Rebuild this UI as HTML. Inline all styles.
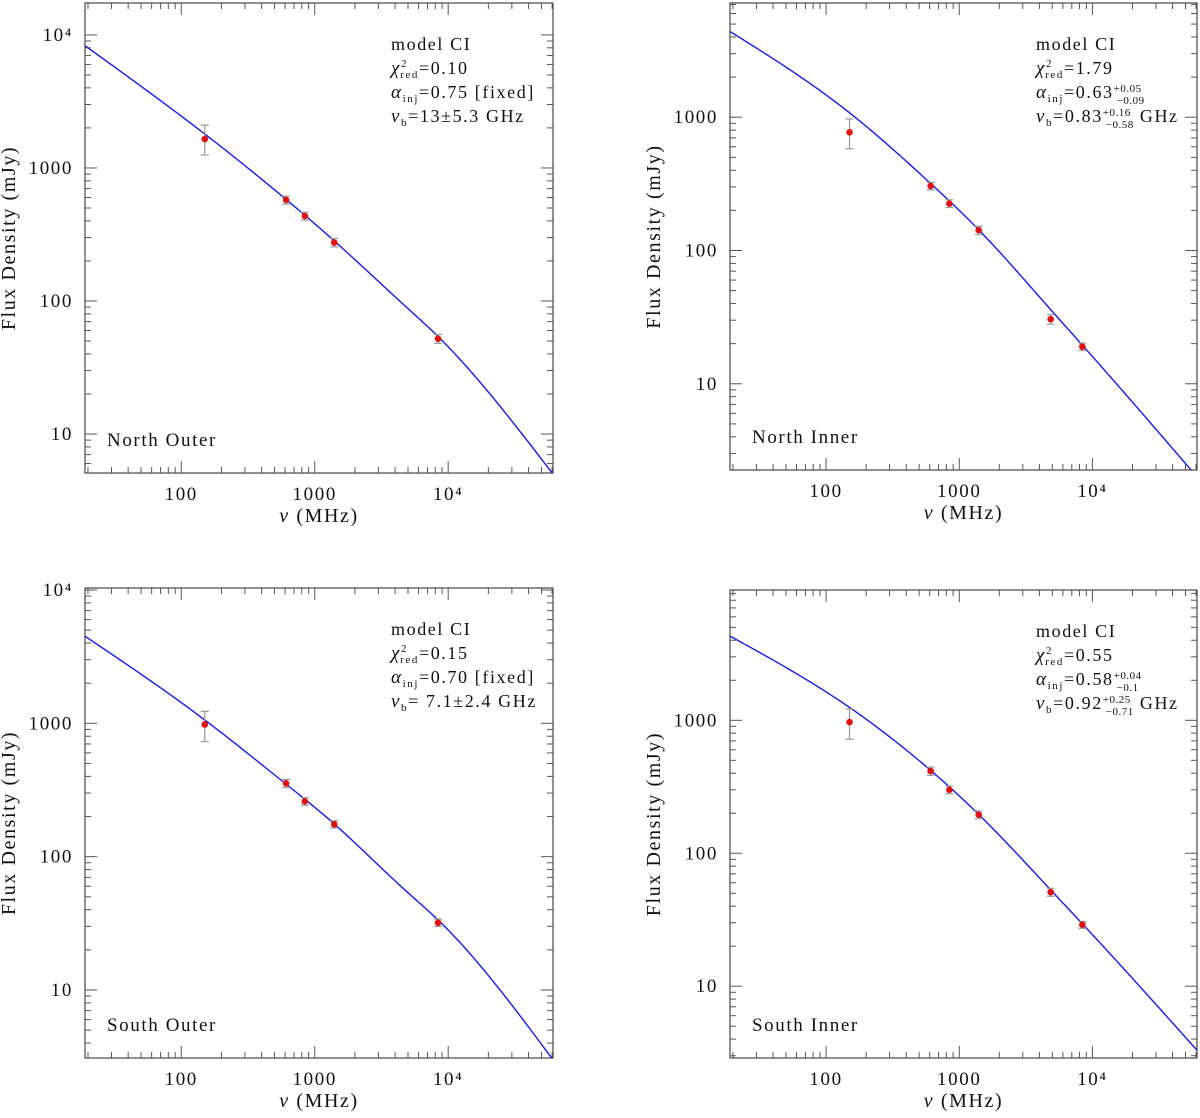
<!DOCTYPE html>
<html><head><meta charset="utf-8"><style>
body{margin:0;background:#fff;}
svg text{font-family:"Liberation Serif",serif;fill:#111;letter-spacing:1.6px;}
</style></head><body>
<svg id="fig" width="1200" height="1113" viewBox="0 0 1200 1113" xmlns="http://www.w3.org/2000/svg"></svg>
<script>
// Data arrays
const panelNames = ["North Outer","North Inner","South Outer","South Inner"];
const obsFreqTL = [150,610,843,1400,8400];
const obsFluxTL = [1650,575,435,275,52];
const obsLoTL = [1250,535,405,255,48];
const obsHiTL = [2100,615,465,295,56];
const obsFreqTR = [150,610,843,1400,4860,8400];
const obsFluxTR = [770,305,225,142,30.5,19];
const obsLoTR = [580,285,210,132,28,17.8];
const obsHiTR = [970,325,240,152,33,20.2];
const obsFreqBL = [150,610,843,1400,8400];
const obsFluxBL = [980,355,260,175,32];
const obsLoBL = [730,330,243,164,30];
const obsHiBL = [1230,380,277,186,34];
const obsFreqBR = [150,610,843,1400,4860,8400];
const obsFluxBR = [970,415,300,195,51,29];
const obsLoBR = [720,385,280,182,47.5,27.3];
const obsHiBR = [1220,445,320,208,54.5,30.7];
const modelFreq = [19,150,610,1400,4860,8400,61000];
const modelTL = [8300,1800,580,283,90,54,5];
const modelTR = [4400,1080,318,143,36,19.5,2.0];
const modelBL = [4500,1060,350,176,55,33.5,3];
const modelBR = [4300,1250,420,196,53,29.5,3.3];
const xTickLabels = ["100","1000","10⁴"];
const yTickLabelsA = ["10","100","1000","10⁴"];

const NS="http://www.w3.org/2000/svg";
const svg=document.getElementById('fig');
function el(tag,attrs,parent){const e=document.createElementNS(NS,tag);for(const k in attrs)e.setAttribute(k,attrs[k]);(parent||svg).appendChild(e);return e;}

// natural cubic spline in log-log space
function spline(xs,ys){const n=xs.length,h=[],al=[],l=[1],mu=[0],z=[0],c=new Array(n).fill(0),b=[],d=[];
 for(let i=0;i<n-1;i++)h.push(xs[i+1]-xs[i]);
 for(let i=1;i<n-1;i++)al[i]=3/h[i]*(ys[i+1]-ys[i])-3/h[i-1]*(ys[i]-ys[i-1]);
 for(let i=1;i<n-1;i++){l[i]=2*(xs[i+1]-xs[i-1])-h[i-1]*mu[i-1];mu[i]=h[i]/l[i];z[i]=(al[i]-h[i-1]*z[i-1])/l[i];}
 l[n-1]=1;z[n-1]=0;
 for(let j=n-2;j>=0;j--){c[j]=z[j]-mu[j]*c[j+1];b[j]=(ys[j+1]-ys[j])/h[j]-h[j]*(c[j+1]+2*c[j])/3;d[j]=(c[j+1]-c[j])/(3*h[j]);}
 return x=>{let j=0;while(j<n-2&&x>xs[j+1])j++;const t=x-xs[j];return ys[j]+b[j]*t+c[j]*t*t+d[j]*t*t*t;};}

const panels=[
 {x0:85,x1:553,y0:3,y1:473,ymin:0.707,ymax:4.24,f:obsFreqTL,v:obsFluxTL,lo:obsLoTL,hi:obsHiTL,m:modelTL,name:panelNames[0],ylabs:[1,2,3,4]},
 {x0:730,x1:1197,y0:3,y1:470,ymin:0.353,ymax:3.857,f:obsFreqTR,v:obsFluxTR,lo:obsLoTR,hi:obsHiTR,m:modelTR,name:panelNames[1],ylabs:[1,2,3]},
 {x0:85,x1:553,y0:588,y1:1058,ymin:0.49,ymax:4.015,f:obsFreqBL,v:obsFluxBL,lo:obsLoBL,hi:obsHiBL,m:modelBL,name:panelNames[2],ylabs:[1,2,3,4]},
 {x0:730,x1:1197,y0:590,y1:1058,ymin:0.46,ymax:3.98,f:obsFreqBR,v:obsFluxBR,lo:obsLoBR,hi:obsHiBR,m:modelBR,name:panelNames[3],ylabs:[1,2,3]}
];
const XMIN=Math.log10(19),XMAX=Math.log10(61000);
const anns=[
 ['χ','red','=0.10',null,null,'α','inj','=0.75 [fixed]',null,null,'ν','b','=13±5.3  GHz',null,null],
 ['χ','red','=1.79',null,null,'α','inj','=0.63','+0.05','−0.09','ν','b','=0.83','+0.16','−0.58'],
 ['χ','red','=0.15',null,null,'α','inj','=0.70 [fixed]',null,null,'ν','b','= 7.1±2.4 GHz',null,null],
 ['χ','red','=0.55',null,null,'α','inj','=0.58','+0.04','−0.1','ν','b','=0.92','+0.25','−0.71']
];

panels.forEach((p,pi)=>{
 const g=el('g',{});
 
 
 const X=v=>p.x0+(Math.log10(v)-XMIN)/(XMAX-XMIN)*(p.x1-p.x0);
 const Y=v=>p.y1-(Math.log10(v)-p.ymin)/(p.ymax-p.ymin)*(p.y1-p.y0);
 const clip='c'+pi;
 const cp=el('clipPath',{id:clip},g);el('rect',{x:p.x0,y:p.y0,width:p.x1-p.x0,height:p.y1-p.y0},cp);
 const tk=el('g',{stroke:'#555','stroke-width':1},g);
 for(let d=1;d<=4;d++)for(let k=1;k<10;k++){const v=k*Math.pow(10,d);const lv=Math.log10(v);if(lv<XMIN||lv>XMAX)continue;const x=X(v);const L=k==1?12:6;
  el('line',{x1:x,x2:x,y1:p.y1,y2:p.y1-L},tk);el('line',{x1:x,x2:x,y1:p.y0,y2:p.y0+L},tk);}
 for(let d=0;d<=4;d++)for(let k=1;k<10;k++){const v=k*Math.pow(10,d);const lv=Math.log10(v);if(lv<p.ymin||lv>p.ymax)continue;const y=Y(v);const L=k==1?12:6;
  el('line',{x1:p.x0,x2:p.x0+L,y1:y,y2:y},tk);el('line',{x1:p.x1,x2:p.x1-L,y1:y,y2:y},tk);}
 const fr=el('rect',{x:p.x0,y:p.y0,width:p.x1-p.x0,height:p.y1-p.y0,fill:'none',stroke:'#555','stroke-width':1.3},g);
 
 [100,1000,10000].forEach((v,i)=>{const t=el('text',{x:X(v),y:p.y1+27,'text-anchor':'middle','font-size':19},g);t.textContent=xTickLabels[i];
  });
 p.ylabs.forEach(d=>{const t=el('text',{x:p.x0-12,y:Y(Math.pow(10,d))+6,'text-anchor':'end','font-size':19},g);t.textContent=yTickLabelsA[d-1];
  });
 const xt=el('text',{x:(p.x0+p.x1)/2,y:p.y1+49,'text-anchor':'middle','font-size':20},g);
 xt.innerHTML='<tspan font-style="italic">ν</tspan> (MHz)';
 
 const yx=p.x0-70, yc=(p.y0+p.y1)/2;
 const yt=el('text',{x:yx,y:yc,'text-anchor':'middle','font-size':20,transform:`rotate(-90 ${yx} ${yc})`},g);
 yt.textContent='Flux Density (mJy)';
 
 const sp=spline(modelFreq.map(Math.log10),p.m.map(Math.log10));
 let d='';
 for(let i=0;i<=200;i++){const lx=XMIN+(XMAX-XMIN)*i/200;const f=Math.pow(10,lx);const v=Math.pow(10,sp(lx));
  d+=(i?'L':'M')+X(f).toFixed(2)+','+Y(v).toFixed(2);}
 const cv=el('path',{d:d,fill:'none',stroke:'#1a1adc','stroke-width':1.4,'clip-path':`url(#${clip})`},g);
 
 p.f.forEach((f,i)=>{const x=X(f);
  const eb=el('path',{d:`M${x},${Y(p.lo[i])}V${Y(p.hi[i])}M${x-4},${Y(p.lo[i])}h8M${x-4},${Y(p.hi[i])}h8`,stroke:'#999','stroke-width':1.2,fill:'none'},g);
  
  const c=el('circle',{cx:x,cy:Y(p.v[i]),r:3.3,fill:'#e01010'},g);
  });
 const nl=el('text',{x:p.x0+22,y:p.y1-27,'font-size':19},g);nl.textContent=p.name;
 
 const ax=p.x0+306, ay=p.y0+47;
 const ag=el('g',{'font-size':18},g);
 
 const t0=el('text',{x:ax,y:ay},ag);t0.textContent='model CI';
 const a=anns[pi];
 for(let r=0;r<3;r++){const s=a.slice(r*5,r*5+5);const y=ay+24*(r+1);
  let h=`<tspan font-style="italic" font-size="19">${s[0]}</tspan>`;
  if(r==0)h+=`<tspan dy="-7" font-size="11">2</tspan><tspan dx="-8" dy="11" font-size="11">${s[1]}</tspan><tspan dy="-4">${s[2]}</tspan>`;
  else h+=`<tspan dy="4" font-size="11">${s[1]}</tspan><tspan dy="-4">${s[2]}</tspan>`;
  if(s[3]){h+=`<tspan dy="-6" font-size="11" letter-spacing="0.5">${s[3]}</tspan><tspan dx="-25" dy="12" font-size="11" letter-spacing="0.5">${s[4]}</tspan><tspan dy="-6">${r==2?' GHz':''}</tspan>`;}
  const t=el('text',{x:ax,y:y},ag);t.innerHTML=h;}
});
</script>
</body></html>
